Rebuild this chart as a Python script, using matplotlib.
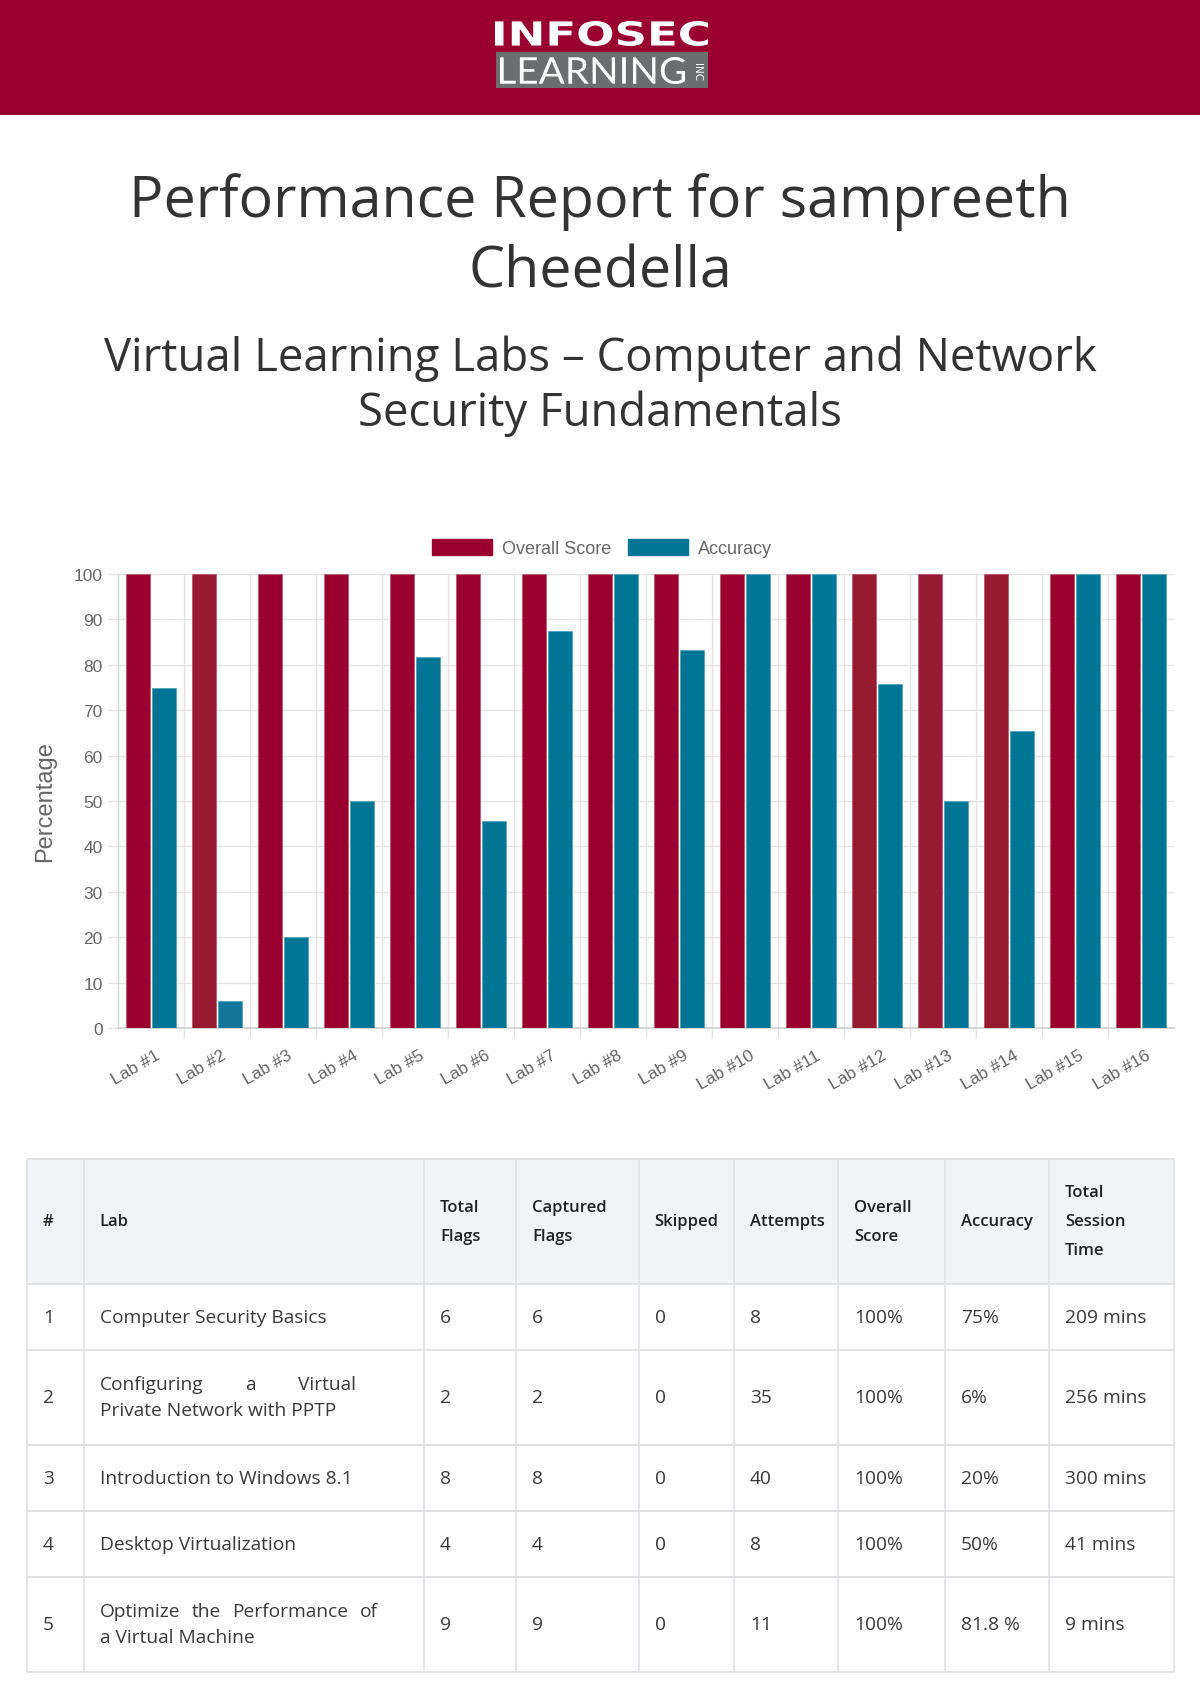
import numpy as np
import matplotlib
matplotlib.use("Agg")
import matplotlib.pyplot as plt
from matplotlib.patches import Rectangle, PathPatch, Patch
from matplotlib.textpath import TextPath
from matplotlib.font_manager import FontProperties
from matplotlib.transforms import Affine2D
from matplotlib.ticker import FixedLocator

# ---------------- data ----------------
labs = ["Lab #1", "Lab #2", "Lab #3", "Lab #4", "Lab #5", "Lab #6", "Lab #7", "Lab #8",
        "Lab #9", "Lab #10", "Lab #11", "Lab #12", "Lab #13", "Lab #14", "Lab #15", "Lab #16"]
overall_score = [100, 100, 100, 100, 100, 100, 100, 100, 100, 100, 100, 100, 100, 100, 100, 100]
accuracy = [75, 6, 20, 50, 81.8, 45.5, 87.5, 100, 83.3, 100, 100, 75.8, 50, 65.4, 100, 100]
y_ticks = [0, 10, 20, 30, 40, 50, 60, 70, 80, 90, 100]

table_header = ["#", "Lab", "Total\nFlags", "Captured\nFlags", "Skipped", "Attempts",
                "Overall\nScore", "Accuracy", "Total\nSession\nTime"]
table_ids = ["1", "2", "3", "4", "5"]
table_labs = ["Computer Security Basics",
              "Configuring a Virtual\nPrivate Network with PPTP",
              "Introduction to Windows 8.1",
              "Desktop Virtualization",
              "Optimize the Performance of\na Virtual Machine"]
total_flags = ["6", "2", "8", "4", "9"]
captured_flags = ["6", "2", "8", "4", "9"]
skipped = ["0", "0", "0", "0", "0"]
attempts = ["8", "35", "40", "8", "11"]
overall_pct = ["100%", "100%", "100%", "100%", "100%"]
accuracy_pct = ["75%", "6%", "20%", "50%", "81.8 %"]
session_time = ["209 mins", "256 mins", "300 mins", "41 mins", "9 mins"]

title_lines = ["Performance Report for sampreeth", "Cheedella"]
subtitle_lines = ["Virtual Learning Labs \u2013 Computer and Network", "Security Fundamentals"]

# ---------------- styles ----------------
RED = "#99002f"
RED_DARK = "#961a30"
TEAL = "#007596"
GRID = "#e4e4e4"
GRAY_TXT = "#666666"
red_colors = [RED, RED_DARK, RED, RED, RED, RED, RED, RED, RED, RED, RED,
              RED_DARK, RED_DARK, RED_DARK, RED, RED]
teal_colors = [TEAL, "#11769a", TEAL, TEAL, TEAL, TEAL, TEAL, TEAL, TEAL, TEAL, TEAL,
               TEAL, TEAL, TEAL, TEAL, TEAL]

PAGE_FONT = "Open Sans"
CHART_FONT = "Liberation Sans"

W, H = 1200, 1699
fig = plt.figure(figsize=(12, 16.99), dpi=100)
page = fig.add_axes([0, 0, 1, 1])
page.set_xlim(0, W)
page.set_ylim(H, 0)
page.axis("off")
renderer = fig.canvas.get_renderer()

# ---------------- header band + logo ----------------
page.add_patch(Rectangle((0, 0), W, 116, color=RED, lw=0))


def fit_text(s, x0, y0, x1, y1, prop, color):
    tp = TextPath((0, 0), s, size=100, prop=prop)
    bb = tp.get_extents()
    sx = (x1 - x0) / bb.width
    sy = (y1 - y0) / bb.height
    tr = Affine2D().translate(-bb.x0, -bb.y0).scale(sx, -sy).translate(x0, y1)
    page.add_patch(PathPatch(tr.transform_path(tp), fc=color, ec="none", lw=0))


fit_text("INFOSEC", 495, 22, 708, 47, FontProperties(family="DejaVu Sans", weight="bold"), "white")
page.add_patch(Rectangle((496, 53), 212, 36, color="#6c6d6f", lw=0))
fit_text("LEARNING", 500, 58, 685, 85, FontProperties(family="Lato", weight="normal"), "white")
page.text(697, 72, "INC", rotation=-90, ha="center", va="center", color="white",
          fontsize=7.5, family="DejaVu Sans")

# ---------------- titles ----------------
for line, yb in zip(title_lines, [217, 287]):
    page.text(600, yb, line, ha="center", va="baseline", fontsize=41.3, color="#333333",
              family=PAGE_FONT)
for line, yb in zip(subtitle_lines, [371, 426]):
    page.text(600, yb, line, ha="center", va="baseline", fontsize=32.8, color="#333333",
              family=PAGE_FONT)

# ---------------- chart ----------------
ax_l, ax_r, ax_t, ax_b = 118, 1174, 575, 1029
ax = fig.add_axes([ax_l / W, 1 - ax_b / H, (ax_r - ax_l) / W, (ax_b - ax_t) / H])
x = np.arange(len(labs))
ax.bar(x - 0.2, overall_score, width=0.36, color=red_colors, edgecolor="#b9506e",
       linewidth=0.5, zorder=3, label="Overall Score")
ax.bar(x + 0.2, accuracy, width=0.36, color=teal_colors, edgecolor="#4c9fbb",
       linewidth=0.5, zorder=3, label="Accuracy")
ax.set_xlim(-0.5, len(labs) - 0.5)
ax.set_ylim(0, 100)
ax.set_yticks(y_ticks)
ax.set_yticklabels([str(v) for v in y_ticks], family=CHART_FONT, fontsize=12.5, color=GRAY_TXT)
ax.set_xticks(x)
ax.set_xticklabels(labs, rotation=30, ha="right", rotation_mode="anchor",
                   family=CHART_FONT, fontsize=12.5, color=GRAY_TXT)
ax.xaxis.set_minor_locator(FixedLocator(np.arange(0.5, len(labs) - 1, 1.0)))
ax.tick_params(axis="x", which="major", length=0, pad=14)
ax.tick_params(axis="x", which="minor", length=7, color=GRID, width=1)
ax.tick_params(axis="y", length=7, color=GRID, width=1, pad=4)
ax.grid(True, axis="y", color=GRID, lw=1, zorder=0)
ax.grid(True, axis="x", which="minor", color=GRID, lw=1, zorder=0)
ax.set_axisbelow(True)
for s in ["top", "right"]:
    ax.spines[s].set_visible(False)
ax.spines["left"].set_color("#d4d4d4")
ax.spines["bottom"].set_color("#cfcfcf")
ax.spines["left"].set_linewidth(1)
ax.spines["bottom"].set_linewidth(1.2)
for lbl in ax.get_xticklabels():
    lbl.set_transform(lbl.get_transform() + Affine2D().translate(4, 0))

leg = ax.legend(handles=[Patch(color=RED, label="Overall Score"), Patch(color=TEAL, label="Accuracy")],
                loc="center", bbox_to_anchor=(602 / W, 1 - 549 / H), bbox_transform=fig.transFigure,
                ncol=2, frameon=False, prop=FontProperties(family=CHART_FONT, size=13),
                handlelength=3.3, handleheight=1.0, handletextpad=0.55, columnspacing=0.95,
                borderpad=0)
for t in leg.get_texts():
    t.set_color(GRAY_TXT)

page.text(45, 802, "Percentage", rotation=90, ha="center", va="center",
          family=CHART_FONT, fontsize=17, color=GRAY_TXT)

# ---------------- table ----------------
col_edges = [27, 83.5, 424, 516, 638.5, 734, 838, 945, 1049, 1174]
row_edges = [1160, 1285, 1351, 1446, 1512, 1578, 1673]
BORDER = "#e1e2e6"
PAD = 16
page.add_patch(Rectangle((col_edges[0], row_edges[0]), col_edges[-1] - col_edges[0],
                         row_edges[1] - row_edges[0], color="#f2f3f7", lw=0))
for yv in row_edges:
    page.plot([col_edges[0], col_edges[-1]], [yv, yv], color=BORDER, lw=1.4, solid_capstyle="butt")
for xv in col_edges:
    page.plot([xv, xv], [row_edges[0], row_edges[-1]], color=BORDER, lw=1.2, solid_capstyle="butt")


def measure(s, **kw):
    t = page.text(0, 0, s, **kw)
    w = t.get_window_extent(renderer).width
    t.remove()
    return w


def cell_lines(lines, x0, yc, pitch, justify_w=None, **kw):
    n = len(lines)
    for i, line in enumerate(lines):
        y = yc + (i - (n - 1) / 2) * pitch
        if justify_w is not None and i < n - 1 and " " in line:
            words = line.split(" ")
            ws = [measure(wd, **kw) for wd in words]
            gap = (justify_w - sum(ws)) / (len(words) - 1)
            xx = x0
            for wd, ww in zip(words, ws):
                page.text(xx, y, wd, ha="left", va="center", **kw)
                xx += ww + gap
        else:
            page.text(x0, y, line, ha="left", va="center", **kw)


hdr_kw = dict(family=PAGE_FONT, fontsize=12, fontweight="semibold", color="#222222")
body_kw = dict(family=PAGE_FONT, fontsize=13.8, color="#3a3a3a")
hyc = (row_edges[0] + row_edges[1]) / 2
for j, h in enumerate(table_header):
    cell_lines(h.split("\n"), col_edges[j] + PAD, hyc, 29, **hdr_kw)

columns = [table_ids, table_labs, total_flags, captured_flags, skipped, attempts,
           overall_pct, accuracy_pct, session_time]
justify_widths = [None, 257, None, None, 278]
for i in range(len(table_ids)):
    yc = (row_edges[i + 1] + row_edges[i + 2]) / 2
    for j, col in enumerate(columns):
        lines = col[i].split("\n")
        jw = justify_widths[i] if j == 1 else None
        cell_lines(lines, col_edges[j] + PAD, yc, 26, justify_w=jw, **body_kw)

fig.savefig("out.png", dpi=100, facecolor="white")
